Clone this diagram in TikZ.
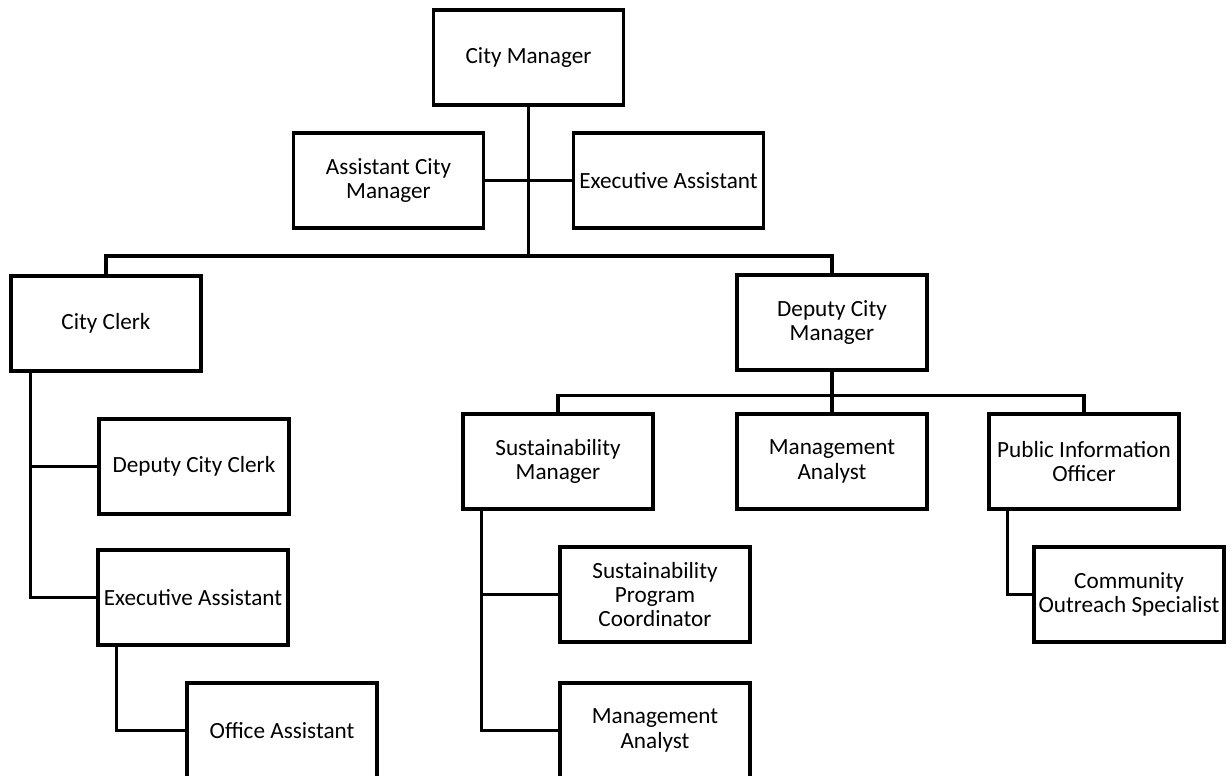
\documentclass[tikz,border=0pt]{standalone}
\usepackage{fontspec}
\setmainfont{Carlito}
\tikzset{
  post/.style={draw, line width=1.9pt, minimum width=3.8cm, minimum height=1.9cm,
    inner sep=1pt, align=center, font=\fontsize{13.2}{13.9}\selectfont},
  link/.style={line width=1.8pt}
}
\begin{document}
\begin{tikzpicture}[x=0.02cm,y=-0.02cm]
  \useasboundingbox (0,0) rectangle (1231,776);
  % top level
  \node[post] (cm)  at (528.5,57.5) {City Manager};
  \node[post] (acm) at (388.5,180.5) {Assistant City\\Manager};
  \node[post] (ea)  at (668.5,180.5) {Executive Assistant};
  \node[post] (cc)  at (106,323.5) {City Clerk};
  \node[post] (dcm) at (832,322.5) {Deputy City\\Manager};
  % clerk side
  \node[post] (dcc) at (194,466.5) {Deputy City Clerk};
  \node[post] (ea2) at (193,597.5) {Executive Assistant};
  \node[post] (oa)  at (282,730.5) {Office Assistant};
  % deputy side
  \node[post] (sm)  at (558,461.5) {Sustainability\\Manager};
  \node[post] (ma)  at (832,461.5) {Management\\Analyst};
  \node[post] (pio) at (1084,461.5) {Public Information\\Officer};
  \node[post] (spc) at (655,594.5) {Sustainability\\Program\\Coordinator};
  \node[post] (ma2) at (655,730.5) {Management\\Analyst};
  \node[post] (cos) at (1129,594.5) {Community\\Outreach Specialist};
  % connectors
  \coordinate (top) at (528.5,256);
  \draw[link] (cm.south) -- (top);
  \draw[link] (acm.east) -- (ea.west);
  \draw[link] (cc.north) |- (top) -| (dcm.north);
  \draw[link] (cc.south west) ++(21,0) coordinate (ccl) |- (ea2.west);
  \draw[link] (dcc.west) -- (dcc.west -| ccl);
  \draw[link] (ea2.south west) ++(20,0) |- (oa.west);
  \draw[link] (dcm.south) -- ++(0,24) coordinate (dj);
  \draw[link] (sm.north) |- (dj) -| (pio.north);
  \draw[link] (dj) -- (ma.north);
  \draw[link] (sm.south west) ++(20,0) coordinate (sml) |- (ma2.west);
  \draw[link] (spc.west) -- (spc.west -| sml);
  \draw[link] (pio.south west) ++(20,0) |- (cos.west);
\end{tikzpicture}
\end{document}
